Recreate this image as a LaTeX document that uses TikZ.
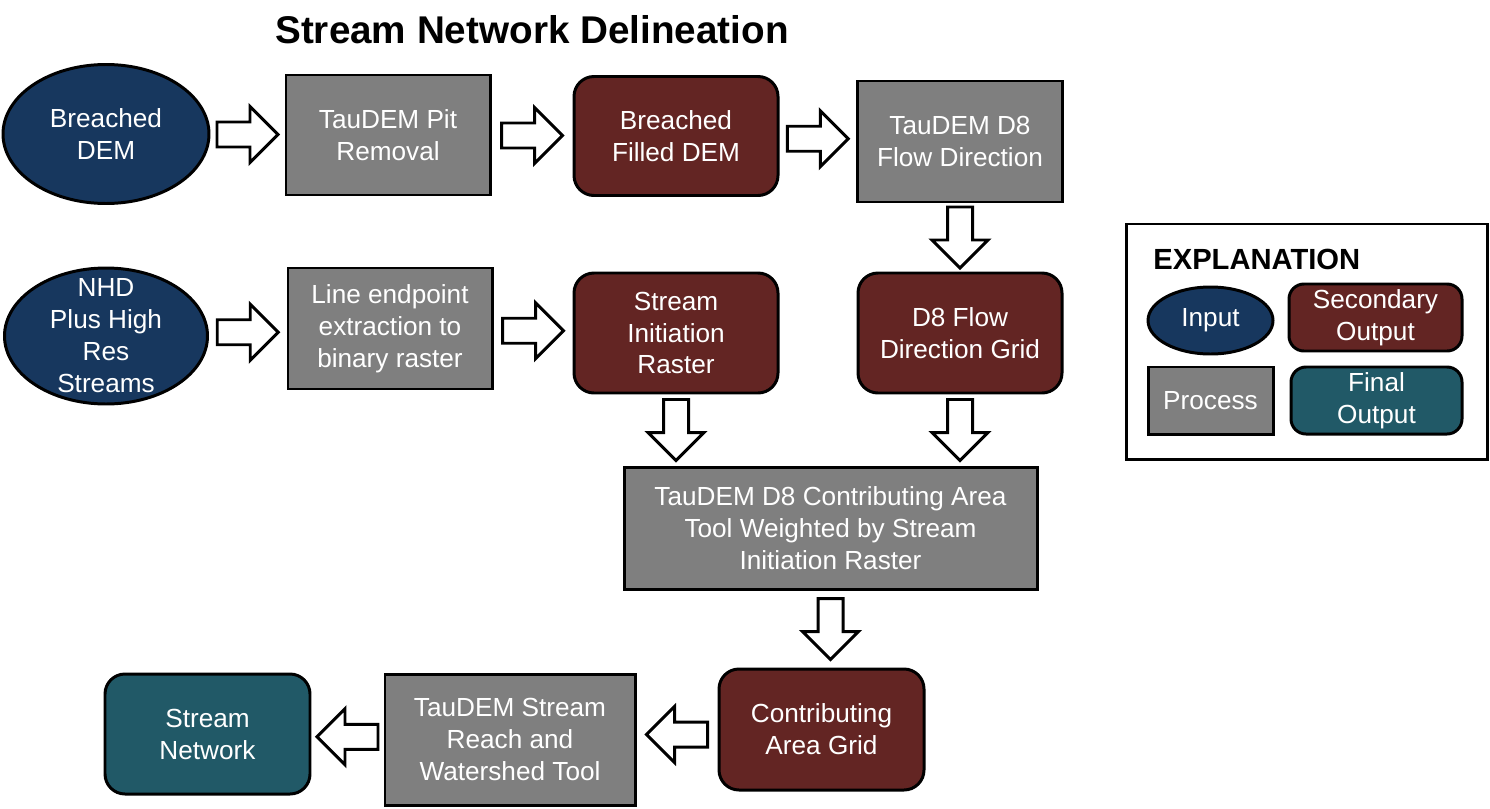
\documentclass[tikz,border=0pt]{standalone}
\usepackage{fontspec}
\setmainfont{Liberation Sans}
\usetikzlibrary{shapes.geometric,calc}
\definecolor{navyin}{HTML}{17375E}
\definecolor{maroonout}{HTML}{632523}
\definecolor{procgray}{HTML}{7F7F7F}
\definecolor{finalteal}{HTML}{215967}
\begin{document}
\begin{tikzpicture}[x=0.02cm,y=-0.02cm,
  sz/.style 2 args={minimum width=#1*0.02cm, minimum height=#2*0.02cm},
  txt/.style={text=white,align=center,font=\fontsize{14.9}{18.2}\selectfont},
  box/.style={txt,draw=black,line width=1.7pt,inner sep=2pt},
  proc/.style={box,rectangle,fill=procgray},
  sec/.style={box,rectangle,rounded corners=0.4cm,fill=maroonout},
  fin/.style={box,rectangle,rounded corners=0.4cm,fill=finalteal},
  inp/.style={box,ellipse,fill=navyin,inner sep=0pt},
  arrowline/.style={draw=black,fill=white,line width=1.7pt,line join=miter},
  barrow/.pic={\draw[arrowline] (-30.5,-12.5) -- (2.5,-12.5) -- (2.5,-28) -- (30.5,0) -- (2.5,28) -- (2.5,12.5) -- (-30.5,12.5) -- cycle;}
]
\useasboundingbox (0,0) rectangle (1490,808);

% title
\node[anchor=base,font=\fontsize{22}{26}\selectfont\bfseries] (title) at (532,43) {Stream Network Delineation};

% row 1
\node[inp,sz={206}{139},label={[txt]center:{Breached\\DEM}}] (bdem) at (106,134) {};
\node[proc,sz={204}{120}] (pit) at (388,135) {TauDEM Pit\\Removal};
\node[sec,sz={204}{119}] (bfd) at (676,136) {Breached\\Filled DEM};
\node[proc,sz={205}{121}] (d8) at (960,141.5) {TauDEM D8\\Flow Direction};

% row 2
\node[inp,sz={203}{136},label={[txt]center:{NHD\\Plus High\\Res\\Streams}}] (nhd) at (106,336) {};
\node[proc,sz={204}{121}] (lep) at (390,328.5) {Line endpoint\\extraction to\\binary raster};
\node[sec,sz={204}{120}] (sir) at (676,333) {Stream\\Initiation\\Raster};
\node[sec,sz={204}{120}] (d8g) at (960,333) {D8 Flow\\Direction Grid};

% row 3
\node[proc,sz={413}{122}] (ca) at (830.5,528) {TauDEM D8 Contributing Area\\Tool Weighted by Stream\\Initiation Raster};

% row 4
\node[sec,sz={205}{121}] (cag) at (821.5,729.5) {Contributing\\Area Grid};
\node[proc,sz={250}{131}] (srw) at (510,739.5) {TauDEM Stream\\Reach and\\Watershed Tool};
\node[fin,sz={205}{120}] (sn) at (207.5,734) {Stream\\Network};

% block arrows
\pic at ($(bdem.east)!0.5!(pit.west)$) {barrow};
\pic at ($(pit.east)!0.5!(bfd.west)$) {barrow};
\pic at ($(bfd.east)!0.5!(d8.west)$) {barrow};
\pic at ($(nhd.east)!0.5!(lep.west)$) {barrow};
\pic at ($(lep.east)!0.5!(sir.west)$) {barrow};
\pic[rotate=-90] at ($(d8.south)!0.5!(d8g.north)$) {barrow};
\pic[rotate=-90] at ($(sir.south)!0.5!(sir.south |- ca.north)$) {barrow};
\pic[rotate=-90] at ($(d8g.south)!0.5!(d8g.south |- ca.north)$) {barrow};
\pic[rotate=-90] at ($(ca.south)!0.5!(ca.south |- cag.north)$) {barrow};
\pic[rotate=180] at ($(cag.west)!0.5!(srw.east)$) {barrow};
\pic[rotate=180] at ($(srw.west)!0.5!(sn.east)$) {barrow};

% legend
\node[draw=black,line width=1.7pt,sz={361}{235}] (legend) at (1306.5,341.5) {};
\node[anchor=base west,inner sep=0pt,font=\fontsize{16.6}{19}\selectfont\bfseries] (legtitle) at (1153,269) {EXPLANATION};
\node[inp,sz={125}{67}] (leginp) at (1210.5,320.5) {Input};
\node[sec,sz={173}{67},rounded corners=0.3cm] (legsec) at (1375.5,317.5) {Secondary\\Output};
\node[proc,sz={125}{67}] (legproc) at (1210.5,400.5) {Process};
\node[fin,sz={171}{67},rounded corners=0.3cm] (legfin) at (1376.5,400.5) {Final\\Output};
\end{tikzpicture}
\end{document}
